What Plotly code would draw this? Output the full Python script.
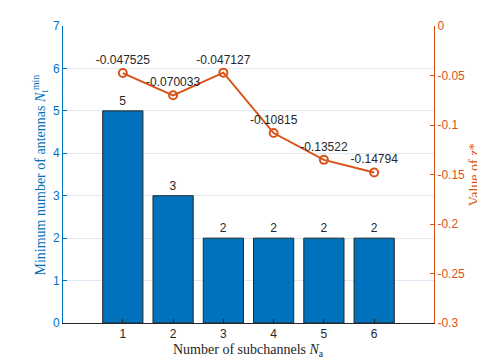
import plotly.graph_objects as go

# values
subchannels = [1, 2, 3, 4, 5, 6]
min_antennas = [5, 3, 2, 2, 2, 2]
z_star = [-0.047525, -0.070033, -0.047127, -0.10815, -0.13522, -0.14794]

left_ticks = [0, 1, 2, 3, 4, 5, 6, 7]
right_ticks = [0, -0.05, -0.1, -0.15, -0.2, -0.25, -0.3]
right_ticklabels = ["0", "-0.05", "-0.1", "-0.15", "-0.2", "-0.25", "-0.3"]

BLUE = "#0072BD"
ORANGE = "#D95319"
DARK = "#262626"
SANS = "Liberation Sans, Arial, sans-serif"
SERIF = "Liberation Serif, DejaVu Serif, serif"

fig = go.Figure()

fig.add_trace(go.Bar(
    x=subchannels, y=min_antennas, width=0.8,
    marker=dict(color=BLUE, line=dict(color=DARK, width=1)),
    text=[str(v) for v in min_antennas], textposition="outside",
    textfont=dict(family=SANS, size=12, color=DARK),
    cliponaxis=False, yaxis="y", showlegend=False,
))

fig.add_trace(go.Scatter(
    x=subchannels, y=z_star, mode="lines+markers+text",
    line=dict(color=ORANGE, width=2),
    marker=dict(symbol="circle-open", size=8, color=ORANGE, line=dict(width=2)),
    text=[str(v) for v in z_star], textposition="top center",
    textfont=dict(family=SANS, size=12, color=DARK),
    cliponaxis=False, yaxis="y2", showlegend=False,
))

# axis titles as annotations so they sit where the reference has them
fig.add_annotation(text="Number of subchannels <i>N</i><sub>a</sub>",
                   xref="paper", yref="paper", x=0.5, y=-0.091, yanchor="middle",
                   showarrow=False, font=dict(family=SERIF, size=14, color=DARK))
fig.add_annotation(text="Minimum number of antennas <i>N</i><sub>t</sub><sup>min</sup>",
                   xref="paper", yref="paper", x=-0.062, y=0.5, xanchor="center",
                   textangle=-90, showarrow=False,
                   font=dict(family=SERIF, size=14, color=BLUE))
fig.add_annotation(text="Value of <i>z</i>*",
                   xref="paper", yref="paper", x=1.11, y=0.5, xanchor="center",
                   textangle=-90, showarrow=False,
                   font=dict(family=SERIF, size=14, color=ORANGE))

fig.update_layout(
    width=477, height=355,
    margin=dict(l=55, r=51, t=18, b=40),
    plot_bgcolor="white", paper_bgcolor="white",
    xaxis=dict(
        range=[-0.19, 7.19], tickvals=subchannels, automargin=False,
        ticks="inside", ticklen=4, tickcolor=DARK,
        showline=True, linecolor=DARK, linewidth=1,
        showgrid=False, zeroline=False,
        tickfont=dict(family=SANS, size=12, color=DARK),
    ),
    yaxis=dict(
        range=[0, 7], tickvals=left_ticks, automargin=False,
        ticks="inside", ticklen=4, tickcolor=BLUE,
        showline=True, linecolor=BLUE, linewidth=1,
        showgrid=True, gridcolor="#dde8f2", zeroline=False,
        tickfont=dict(family=SANS, size=12, color=BLUE),
    ),
    yaxis2=dict(
        range=[-0.3, 0], overlaying="y", side="right", automargin=False,
        tickvals=right_ticks, ticktext=right_ticklabels,
        ticks="inside", ticklen=4, tickcolor=ORANGE,
        showline=True, linecolor=ORANGE, linewidth=1,
        showgrid=False, zeroline=False,
        tickfont=dict(family=SANS, size=12, color=ORANGE),
    ),
)

fig.write_html("out.html")
